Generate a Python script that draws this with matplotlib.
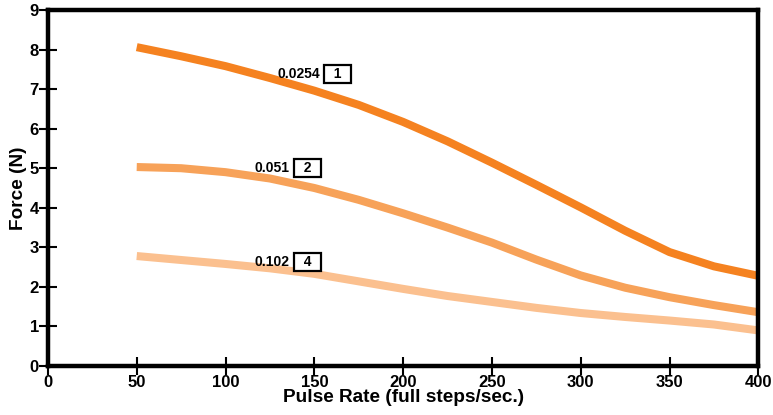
import matplotlib.pyplot as plt

# ─── Data ─────────────────────────────────────────────────────────────────────
pulse_rate = [50, 75, 100, 125, 150, 175, 200, 225, 250, 275, 300, 325, 350, 375, 400]
force_1 = [8.06, 7.83, 7.58, 7.28, 6.96, 6.60, 6.17, 5.68, 5.14, 4.58, 4.01, 3.42, 2.88, 2.52, 2.28]
force_2 = [5.03, 5.00, 4.90, 4.74, 4.50, 4.20, 3.86, 3.50, 3.12, 2.69, 2.29, 1.98, 1.74, 1.54, 1.36]
force_3 = [2.78, 2.68, 2.58, 2.47, 2.33, 2.14, 1.95, 1.77, 1.62, 1.47, 1.34, 1.24, 1.15, 1.05, 0.90]

series_values = ["0.0254", "0.051", "0.102"]
series_ids = ["1", "2", "4"]
label_x = [153, 136, 136]
label_y = [7.38, 5.00, 2.63]
colors = ["#F58220", "#F7A259", "#FBC08F"]

x_ticks = [0, 50, 100, 150, 200, 250, 300, 350, 400]
y_ticks = list(range(0, 10))

plt.rcParams["font.family"] = ["Liberation Sans", "DejaVu Sans"]
plt.rcParams["font.weight"] = "bold"

fig = plt.figure(figsize=(7.73, 4.15), dpi=100)
ax = fig.add_axes([0.062, 0.118, 0.919, 0.858])

for ys, c in zip([force_1, force_2, force_3], colors):
    ax.plot(pulse_rate, ys, color=c, linewidth=5.8, solid_capstyle="butt",
            solid_joinstyle="round")

for val, sid, lx, ly in zip(series_values, series_ids, label_x, label_y):
    ax.text(lx, ly, val, ha="right", va="center", fontsize=10, fontweight="bold")
    ax.text(lx + 3.5, ly, "  " + sid + "  ", ha="left", va="center", fontsize=10,
            fontweight="bold",
            bbox=dict(boxstyle="square,pad=0.15", fc="white", ec="black", lw=1.6))

ax.set_xlim(0, 400)
ax.set_ylim(0, 9)
ax.set_xticks(x_ticks)
ax.set_yticks(y_ticks)
for side in ["left", "right", "top", "bottom"]:
    ax.spines[side].set_linewidth(3.2)
ax.tick_params(axis="y", direction="inout", length=13, width=1.5, labelsize=12, pad=0)
ax.tick_params(axis="x", direction="inout", length=13, width=1.5, labelsize=12, pad=0)
for lab in ax.get_xticklabels() + ax.get_yticklabels():
    lab.set_fontweight("bold")

ax.set_xlabel("Pulse Rate (full steps/sec.)", fontsize=13.7, fontweight="bold", labelpad=-1)
ax.set_ylabel("Force (N)", fontsize=13.7, fontweight="bold", labelpad=2)

fig.savefig("out.png", dpi=100)
